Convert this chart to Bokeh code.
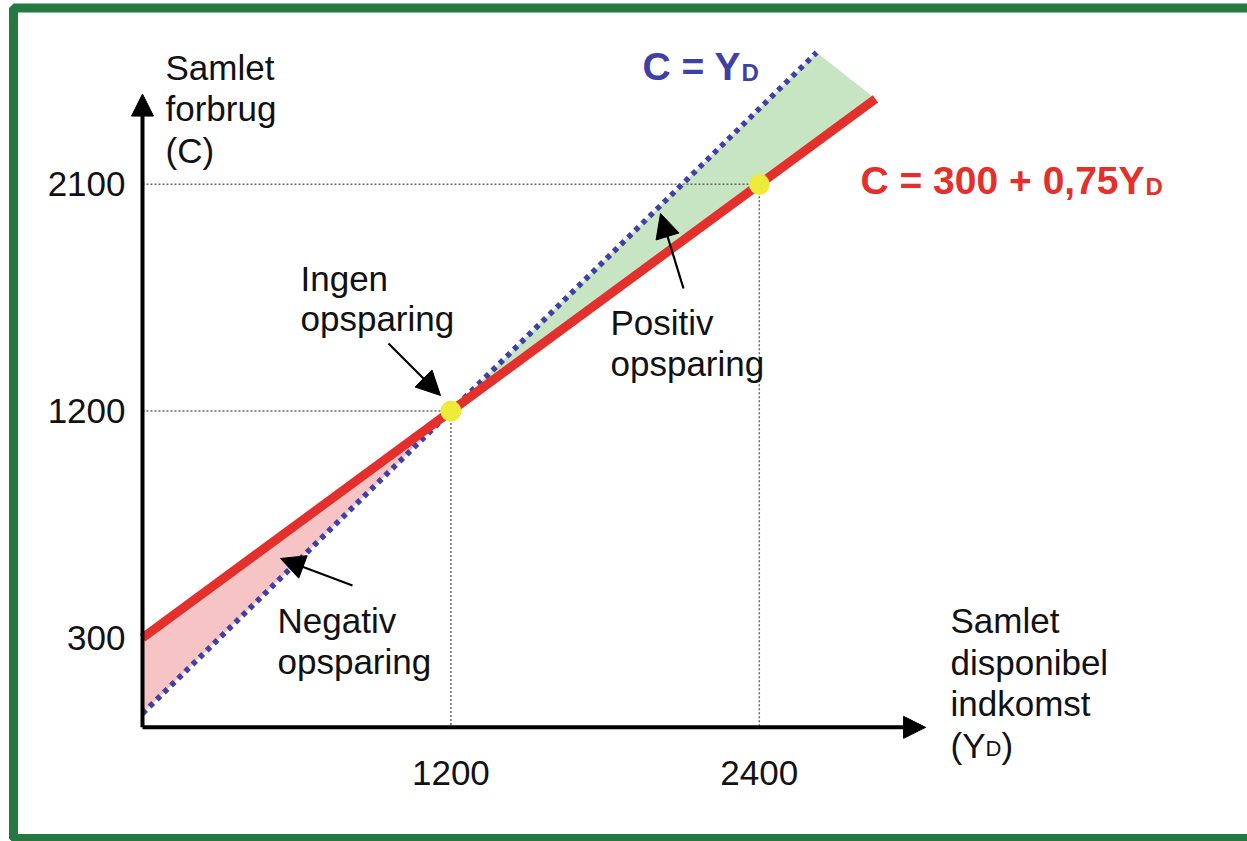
from bokeh.plotting import figure
from bokeh.models import Range1d, Arrow, NormalHead, Label, BoxAnnotation
from bokeh.embed import file_html
from bokeh.resources import INLINE

# ---------------- data ----------------
# C = Y_D  (45-degree line), endpoints in income units
blue_income = [0, 2623]
blue_consumption = [0, 2623]
# C = 300 + 0.75 Y_D, endpoints
red_income = [0, 2852]
red_consumption = [300, 2439]
# marked points
point_income = [1200, 2400]
point_consumption = [1200, 2100]
# tick labels
y_tick_values = [300, 1200, 2100]
y_tick_labels = ["300", "1200", "2100"]
x_tick_values = [1200, 2400]
x_tick_labels = ["1200", "2400"]
# shaded regions (negative / positive saving)
neg_income = [0, 0, 1200]
neg_consumption = [0, 300, 1200]
pos_income = [1200, 2623, 2852]
pos_consumption = [1200, 2623, 2439]
axis_c = -55      # level where the income axis is drawn
axis_top_c = 2458
axis_right_y = 3047

# ---------------- layout helpers ----------------
W, H = 1247, 841
OX, OY, KX, KY = 142.0, 713.0, 0.257, 0.252
TXT_SHIFT = -10


def dx(sx):
    return (sx - OX) / KX


def dy(sy):
    return (OY - sy) / KY


FONT = "Liberation Sans"
RED = "#E3302C"
BLUE = "#3E40A6"
DARK = "#111111"

p = figure(width=W, height=H, output_backend="svg", toolbar_location=None,
           x_range=Range1d(dx(0), dx(W)), y_range=Range1d(dy(H), dy(0)),
           x_axis_type=None, y_axis_type=None, min_border=0)
p.grid.visible = False
p.outline_line_color = None
p.background_fill_color = "white"
p.border_fill_color = "white"

# shaded areas
p.patch(neg_income, neg_consumption, fill_color="#F6C4C4", line_color=None)
p.patch(pos_income, pos_consumption, fill_color="#C7E5C3", line_color=None)

# dotted guide lines
guide = dict(line_color="#666666", line_width=1.5, line_dash="2 2")
for xi, ci in zip(point_income, point_consumption):
    p.line([0, xi], [ci, ci], **guide)
    p.line([xi, xi], [ci, axis_c], **guide)

# lines
p.line(blue_income, blue_consumption, line_color=BLUE, line_width=5.5, line_dash="5 5")
p.line(red_income, red_consumption, line_color=RED, line_width=9)

# points
p.scatter(point_income, point_consumption, size=21, fill_color="#EEEA3A", line_color=None)

# axes with arrows
for xe, ye in [(0, axis_top_c), (axis_right_y, axis_c)]:
    p.add_layout(Arrow(end=NormalHead(size=22, fill_color="black", line_color="black"),
                       x_start=0, y_start=axis_c, x_end=xe, y_end=ye,
                       line_width=4, line_color="black"))

# annotation arrows
for (x0, y0, x1, y1) in [(388, 343, 440, 395),
                         (683, 288, 660, 213),
                         (352, 585, 280, 558)]:
    p.add_layout(Arrow(end=NormalHead(size=24, fill_color="black", line_color="black"),
                       x_start=dx(x0), y_start=dy(y0), x_end=dx(x1), y_end=dy(y1),
                       line_width=2.2, line_color="black"))


def lab(text, sx, sy, size="35px", color=DARK, bold=False, align="left", baseline="alphabetic"):
    p.add_layout(Label(x=dx(sx), y=dy(sy + TXT_SHIFT), text=text, text_font=FONT,
                       text_font_size=size, text_color=color,
                       text_font_style="bold" if bold else "normal",
                       text_align=align, text_baseline=baseline))


# tick labels
for v, t in zip(y_tick_values, y_tick_labels):
    p.add_layout(Label(x=dx(125), y=v, text=t, text_font=FONT, text_font_size="35px",
                       text_color=DARK, text_align="right", text_baseline="middle"))
for v, t in zip(x_tick_values, x_tick_labels):
    p.add_layout(Label(x=v, y=dy(782 + TXT_SHIFT), text=t, text_font=FONT, text_font_size="35px",
                       text_color=DARK, text_align="center", text_baseline="alphabetic"))

# axis titles
lab("Samlet", 165, 77)
lab("forbrug", 165, 118)
lab("(C)", 165, 160)
lab("Samlet", 950, 630)
lab("disponibel", 950, 672)
lab("indkomst", 950, 713)
lab("(Y", 950, 755)
lab("D", 985, 758, size="22px")
lab(")", 1001, 755)

# region labels
lab("Ingen", 300, 288)
lab("opsparing", 300, 328)
lab("Positiv", 610, 332)
lab("opsparing", 610, 373)
lab("Negativ", 277, 630)
lab("opsparing", 277, 671)

# equations
lab("C = Y", 642, 76, size="39px", color=BLUE, bold=True)
lab("D", 741, 82, size="24px", color=BLUE, bold=True)
lab("C = 300 + 0,75Y", 860, 190, size="39px", color=RED, bold=True)
lab("D", 1145, 196, size="24px", color=RED, bold=True)

# green frame
p.add_layout(BoxAnnotation(left=dx(13), right=dx(1262), top=dy(7.5), bottom=dy(838),
                           fill_alpha=0, line_color="#23793F", line_alpha=1.0, line_width=9))

open("out.html", "w").write(file_html(p, INLINE))
